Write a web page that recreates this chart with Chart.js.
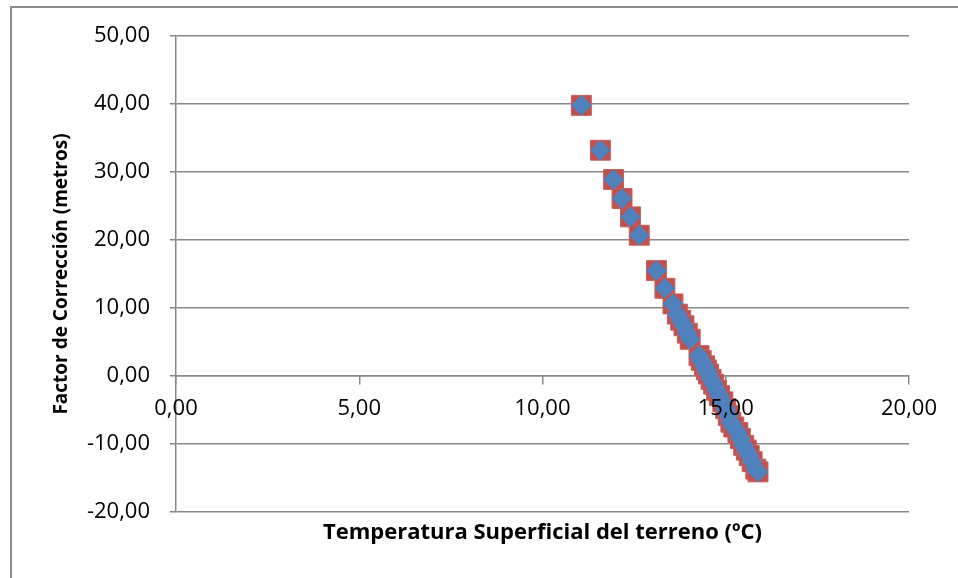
<!DOCTYPE html>
<html lang="es">
<head>
<meta charset="utf-8">
<title>Factor de Corrección vs Temperatura Superficial</title>
<script src="https://cdn.jsdelivr.net/npm/chart.js@4.4.1/dist/chart.umd.min.js"></script>
<style>
  html, body { margin: 0; padding: 0; background: #fff; overflow: hidden; }
  #contenedor { position: relative; width: 958px; height: 578px; }
  #marco {
    position: absolute; left: 10px; top: 6px; width: 1000px; height: 1000px;
    border-left: 2px solid #8a8a8a; border-top: 2px solid #8a8a8a;
  }
  canvas { position: absolute; left: 0; top: 0; }
</style>
</head>
<body>
<div id="contenedor">
  <div id="marco"></div>
  <canvas id="miGrafico" width="958" height="578"></canvas>
</div>
<script>
// ===============================
// Datos
// ===============================
const temperaturas = [11.06, 11.58, 11.94, 12.17, 12.40, 12.64, 13.11, 13.34, 13.56, 13.68,
  13.77, 13.86, 13.95, 14.03, 14.27, 14.33, 14.42, 14.47, 14.53, 14.60,
  14.67, 14.75, 14.83, 14.92, 15.00, 15.07, 15.14, 15.22, 15.33, 15.40,
  15.49, 15.56, 15.64, 15.72, 15.82, 15.88];
const factores = [39.8, 33.2, 28.9, 26.1, 23.4, 20.7, 15.5, 12.9, 10.6, 9.1,
  8.2, 7.4, 6.3, 5.4, 3.0, 2.3, 1.5, 0.9, 0.3, -0.5,
  -1.2, -2.1, -2.9, -3.8, -4.8, -5.8, -6.8, -7.5, -8.3, -9.2,
  -10.2, -10.9, -11.7, -12.6, -13.7, -14.1];
const marcasX = [0, 5, 10, 15, 20];
const marcasY = [-20, -10, 0, 10, 20, 30, 40, 50];

const tituloX = 'Temperatura Superficial del terreno (ºC)';
const tituloY = 'Factor de Corrección (metros)';

// ===============================
// Estilos
// ===============================
const gris = '#878787';
const fuente = "'Open Sans', sans-serif";

function formatoComa(valor) {
  return Number(valor).toFixed(2).replace('.', ',');
}

// Título del eje X (va debajo del área del gráfico, no junto al eje en y=0)
const tituloEjeX = {
  id: 'tituloEjeX',
  afterDraw(chart) {
    const { ctx, chartArea } = chart;
    ctx.save();
    ctx.font = 'bold 22px ' + fuente;
    ctx.fillStyle = '#000';
    ctx.textAlign = 'center';
    ctx.textBaseline = 'middle';
    ctx.fillText(tituloX, (chartArea.left + chartArea.right) / 2, chartArea.bottom + 21);
    ctx.restore();
  }
};

document.addEventListener('DOMContentLoaded', function () {
  configurarGrafico();
});

function configurarGrafico() {
  const ctx = document.getElementById('miGrafico').getContext('2d');
  const puntos = temperaturas.map((t, i) => ({ x: t, y: factores[i] }));

  new Chart(ctx, {
    type: 'scatter',
    data: {
      datasets: [
        {
          label: 'Serie 2',
          data: puntos,
          pointStyle: 'rectRot',
          pointRadius: 9.8,
          backgroundColor: '#4F81BD',
          borderColor: '#4F81BD',
          borderWidth: 1,
          order: 0
        },
        {
          label: 'Serie 1',
          data: puntos,
          pointStyle: 'rect',
          pointRadius: 14.1,
          backgroundColor: '#C0504D',
          borderColor: '#C8605D',
          borderWidth: 1,
          order: 1
        }
      ]
    },
    options: {
      responsive: false,
      animation: false,
      layout: { padding: { left: 0, top: 36, right: 49, bottom: 66 } },
      plugins: {
        legend: { display: false },
        tooltip: { enabled: false }
      },
      scales: {
        x: {
          type: 'linear',
          position: { y: 0 },
          min: marcasX[0],
          max: marcasX[marcasX.length - 1],
          ticks: {
            stepSize: marcasX[1] - marcasX[0],
            callback: formatoComa,
            font: { family: fuente, size: 22 },
            color: '#000',
            padding: 12,
            maxRotation: 0,
            z: 1 // las etiquetas quedan encima de los marcadores, como en Excel
          },
          grid: { drawOnChartArea: false, drawTicks: true, tickLength: 8, color: gris, lineWidth: 1.5 },
          border: { color: gris, width: 1.5 }
        },
        y: {
          type: 'linear',
          position: 'left',
          min: marcasY[0],
          max: marcasY[marcasY.length - 1],
          ticks: {
            stepSize: marcasY[1] - marcasY[0],
            callback: formatoComa,
            font: { family: fuente, size: 22 },
            color: '#000',
            padding: 20
          },
          grid: { color: gris, lineWidth: 1.5, tickLength: 6 },
          border: { color: gris, width: 1.5 },
          title: {
            display: true,
            text: tituloY,
            font: { family: fuente, size: 19, weight: 'bold' },
            color: '#000',
            padding: { top: 50, bottom: 0 }
          },
          afterFit: function (escala) {
            escala.width = 176;
          }
        }
      }
    },
    plugins: [tituloEjeX]
  });
}
</script>
</body>
</html>
